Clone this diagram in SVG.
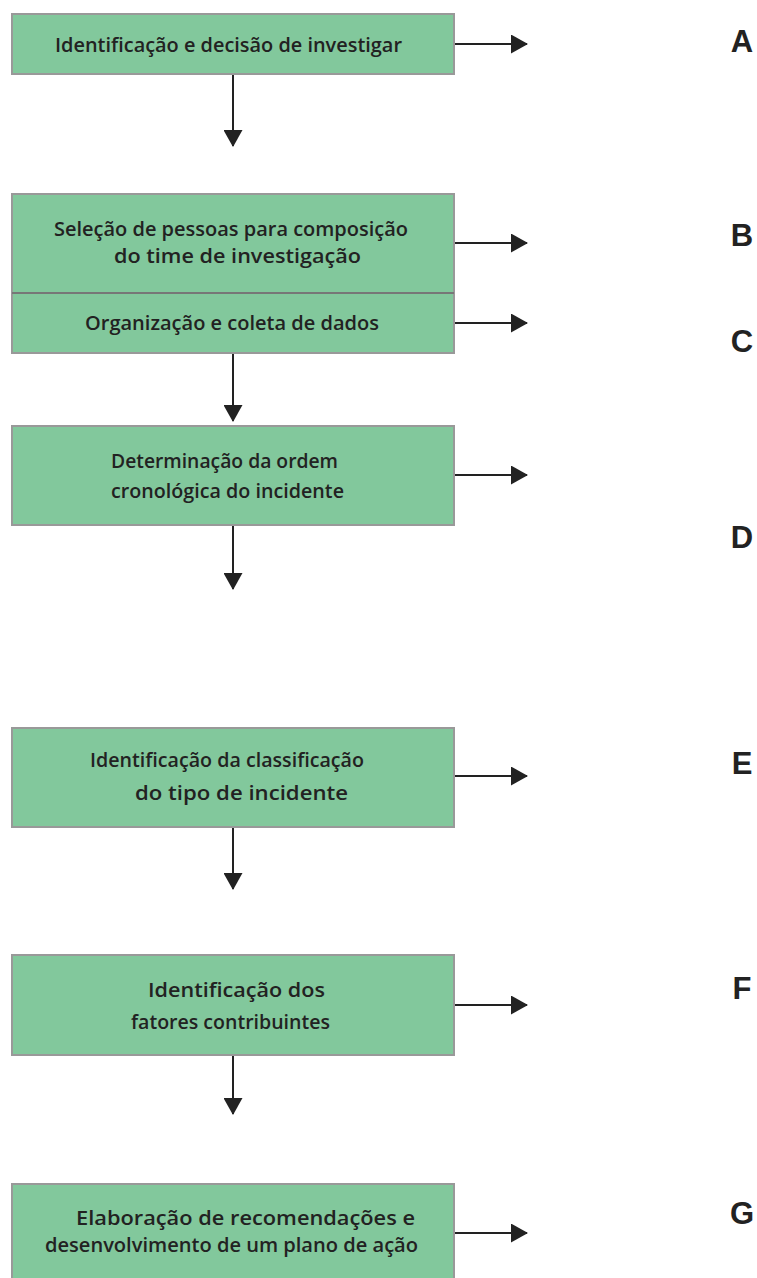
<svg xmlns="http://www.w3.org/2000/svg" width="757" height="1278" viewBox="0 0 757 1278">
<style>
.box{fill:#82C89C;stroke:#999;stroke-width:2}
.t{font-family:"Open Sans","DejaVu Sans",sans-serif;font-weight:600;font-size:20px;fill:#222}
.l{font-family:"Liberation Sans",Arial,sans-serif;font-weight:bold;font-size:31px;fill:#222;text-anchor:middle}
.c{stroke:#222;stroke-width:2;fill:none}
</style>
<defs>
<marker id="ah" markerWidth="17" markerHeight="19" refX="16" refY="9.5" orient="auto" markerUnits="userSpaceOnUse">
<path d="M0,0 L17,9.5 L0,19 Z" fill="#222"/>
</marker>
</defs>
<rect width="757" height="1278" fill="#fff"/>
<g id="nodeA">
<rect class="box" x="12" y="14" width="442" height="60"/>
<text class="t" x="55" y="52" textLength="347" lengthAdjust="spacingAndGlyphs">Identificação e decisão de investigar</text>
</g>
<g id="nodeBC">
<rect class="box" x="12" y="194" width="442" height="159"/>
<line x1="12" y1="293" x2="454" y2="293" stroke="#777" stroke-width="2"/>
<text class="t" x="54" y="236" textLength="354" lengthAdjust="spacingAndGlyphs">Seleção de pessoas para composição</text>
<text class="t" x="114" y="263" textLength="247" lengthAdjust="spacingAndGlyphs">do time de investigação</text>
<text class="t" x="85" y="330" textLength="294" lengthAdjust="spacingAndGlyphs">Organização e coleta de dados</text>
</g>
<g id="nodeD">
<rect class="box" x="12" y="426" width="442" height="99"/>
<text class="t" x="111" y="468" textLength="227" lengthAdjust="spacingAndGlyphs">Determinação da ordem</text>
<text class="t" x="111" y="498" textLength="233" lengthAdjust="spacingAndGlyphs">cronológica do incidente</text>
</g>
<g id="nodeE">
<rect class="box" x="12" y="728" width="442" height="99"/>
<text class="t" x="90" y="767" textLength="274" lengthAdjust="spacingAndGlyphs">Identificação da classificação</text>
<text class="t" x="135" y="800" textLength="213" lengthAdjust="spacingAndGlyphs">do tipo de incidente</text>
</g>
<g id="nodeF">
<rect class="box" x="12" y="955" width="442" height="100"/>
<text class="t" x="148" y="997" textLength="177" lengthAdjust="spacingAndGlyphs">Identificação dos</text>
<text class="t" x="131" y="1029" textLength="199" lengthAdjust="spacingAndGlyphs">fatores contribuintes</text>
</g>
<g id="nodeG">
<rect class="box" x="12" y="1184" width="442" height="100"/>
<text class="t" x="76" y="1225" textLength="339" lengthAdjust="spacingAndGlyphs">Elaboração de recomendações e</text>
<text class="t" x="45" y="1252" textLength="373" lengthAdjust="spacingAndGlyphs">desenvolvimento de um plano de ação</text>
</g>
<g id="labels">
<text class="l" x="742" y="52">A</text>
<text class="l" x="742" y="246">B</text>
<text class="l" x="742" y="352">C</text>
<text class="l" x="742" y="548">D</text>
<text class="l" x="742" y="774">E</text>
<text class="l" x="742" y="999">F</text>
<text class="l" x="742" y="1224">G</text>
</g>
<g id="connectors">
<line class="c" x1="455" y1="44" x2="527" y2="44" marker-end="url(#ah)"/>
<line class="c" x1="455" y1="243" x2="527" y2="243" marker-end="url(#ah)"/>
<line class="c" x1="455" y1="323" x2="527" y2="323" marker-end="url(#ah)"/>
<line class="c" x1="455" y1="475" x2="527" y2="475" marker-end="url(#ah)"/>
<line class="c" x1="455" y1="776" x2="527" y2="776" marker-end="url(#ah)"/>
<line class="c" x1="455" y1="1005" x2="527" y2="1005" marker-end="url(#ah)"/>
<line class="c" x1="455" y1="1233" x2="527" y2="1233" marker-end="url(#ah)"/>
<line class="c" x1="233" y1="75" x2="233" y2="146" marker-end="url(#ah)"/>
<line class="c" x1="233" y1="354" x2="233" y2="421" marker-end="url(#ah)"/>
<line class="c" x1="233" y1="526" x2="233" y2="589" marker-end="url(#ah)"/>
<line class="c" x1="233" y1="828" x2="233" y2="889" marker-end="url(#ah)"/>
<line class="c" x1="233" y1="1056" x2="233" y2="1114" marker-end="url(#ah)"/>
</g>
</svg>
